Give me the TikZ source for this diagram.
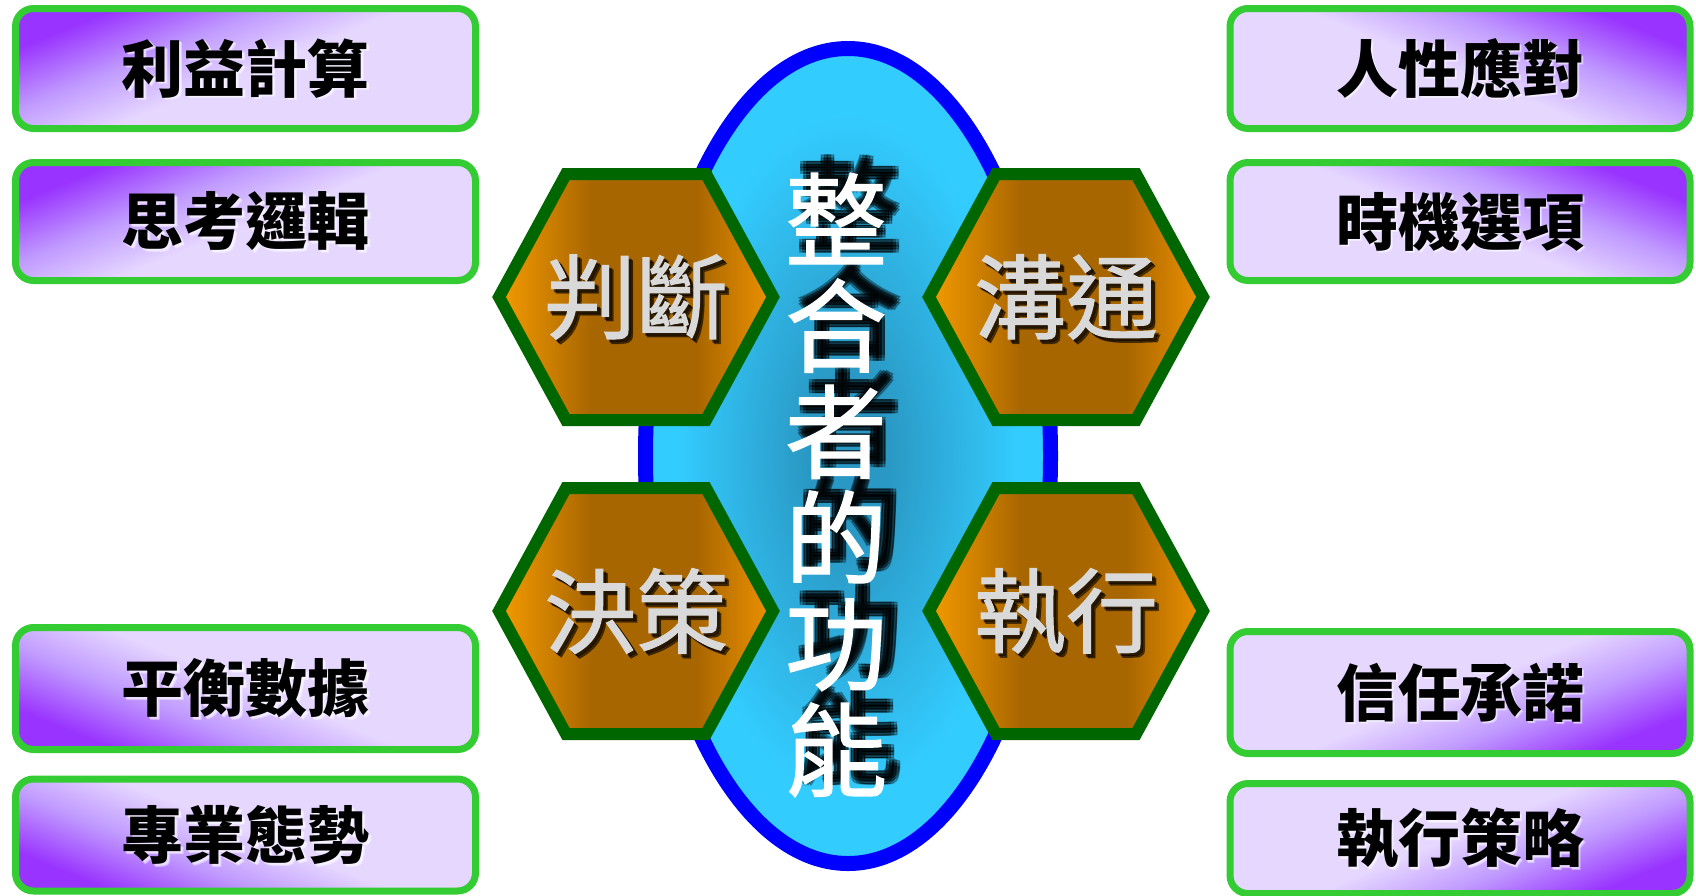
\documentclass[tikz,border=0pt]{standalone}
\usepackage{fontspec}
\newfontfamily\cjk{Noto Sans CJK TC}
\newfontfamily\cjkm[FakeBold=1.2]{Noto Sans CJK TC}
\usetikzlibrary{shapes.geometric}
\definecolor{purp}{HTML}{9933FF}
\definecolor{purpmid}{HTML}{C09AFF}
\definecolor{lav}{HTML}{E6D7FF}
\definecolor{boxgreen}{HTML}{33CC33}
\definecolor{hexgreen}{HTML}{006600}
\definecolor{hexor}{HTML}{F59B00}
\definecolor{hexortwo}{HTML}{EE9200}
\definecolor{hexdk}{HTML}{A86600}
\definecolor{elllight}{HTML}{33CCFF}
\definecolor{elldark}{HTML}{2A98C4}
\definecolor{ellblue}{HTML}{0000FF}
\definecolor{hextextcol}{HTML}{D9D9D9}
\pgfdeclareverticalshading{boxshade}{100bp}{color(0bp)=(lav); color(49bp)=(lav); color(61bp)=(purpmid); color(74bp)=(purp); color(100bp)=(purp)}
\pgfdeclarehorizontalshading{hexshade}{100bp}{color(0bp)=(hexor); color(25bp)=(hexor); color(42bp)=(hexdk); color(61bp)=(hexdk); color(75bp)=(hexortwo); color(100bp)=(hexortwo)}
\pgfdeclareradialshading{ellshade}{\pgfpoint{0bp}{0bp}}{color(0bp)=(elldark); color(5bp)=(elldark); color(21bp)=(elllight); color(50bp)=(elllight)}
\tikzset{
  boxnode/.style={draw=boxgreen, line width=7pt, rounded corners=18pt, minimum width=460pt, inner sep=0pt, shading=boxshade},
  boxtext/.style={font=\cjk\bfseries\fontsize{62}{62}\selectfont, text=black, inner sep=0pt},
  boxglow/.style={font=\cjk\bfseries\fontsize{62}{62}\selectfont, text=white, inner sep=0pt, opacity=0.45},
  hexpath/.style={draw=hexgreen, line width=12pt, line join=miter, shading=hexshade},
  hextext/.style={font=\cjkm\fontsize{92}{92}\selectfont, text=hextextcol, inner sep=0pt},
  hexshadow/.style={font=\cjkm\fontsize{92}{92}\selectfont, text=black, inner sep=0pt, opacity=0.5},
  ctext/.style={font=\cjkm\fontsize{102}{106}\selectfont, align=center, inner sep=0pt},
}
\newcommand\ctxt{整\\合\\者\\的\\功\\能}
\begin{document}
\begin{tikzpicture}[x=1pt,y=-1pt]
\useasboundingbox (0,0) rectangle (1696,895);
\fill[white] (0,0) rectangle (1696,895);
% central ellipse
\node (ell) [ellipse, draw=ellblue, line width=15pt, shading=ellshade, minimum width=405pt, minimum height=815pt, inner sep=0pt] at (848,456) {};
% blurred shadow of the central text
\foreach \dx/\dy [count=\i] in {10/-18,13/-18,16/-18,10/-15,13/-15,16/-15,10/-12,13/-12,16/-12}
  \node[ctext, text=black, opacity=0.27] (csh\i) at (836+\dx,485+\dy) {\ctxt};
\node[ctext, text=white] (ctitle) at (836,485) {\ctxt};
% hexagons
\foreach \cx/\cy/\t/\n in {636/297/判斷/ha, 1066/297/溝通/hb, 636/611/決策/hc, 1066/611/執行/hd}{
  \path[hexpath, shift={(\cx,\cy)}] (-137,0) -- (-70,-123) -- (70,-123) -- (137,0) -- (70,123) -- (-70,123) -- cycle;
  \node[hexshadow] (\n s) at (\cx+3,\cy+3) {\t};
  \node[hexshadow] (\n u) at (\cx+4.5,\cy+4.5) {\t};
  \node[hextext] (\n) at (\cx,\cy) {\t};
}
% left boxes (purple corner toward the outside)
\node[boxnode, minimum height=120pt, shading angle=22] (l1) at (245.5,68.5) {};
\node[boxnode, minimum height=118pt, shading angle=22] (l2) at (245.5,221.5) {};
\node[boxnode, minimum height=122pt, shading angle=158] (l3) at (245.5,688.5) {};
\node[boxnode, minimum height=112pt, shading angle=158] (l4) at (245.5,835) {};
% right boxes
\node[boxnode, minimum height=120pt, shading angle=-22] (r1) at (1460,68.5) {};
\node[boxnode, minimum height=118pt, shading angle=-22] (r2) at (1460,221.5) {};
\node[boxnode, minimum height=122pt, shading angle=-158] (r3) at (1460,692.5) {};
\node[boxnode, minimum height=110pt, shading angle=-158] (r4) at (1460,838.5) {};
% box texts with light glow
\foreach \b/\t in {l1/利益計算, l2/思考邏輯, l3/平衡數據, l4/專業態勢, r1/人性應對, r2/時機選項, r3/信任承諾, r4/執行策略}{
  \node[boxglow] (\b g) at ([shift={(2.5,2.5)}]\b.center) {\t};
  \node[boxglow] (\b h) at ([shift={(1.5,1.5)}]\b.center) {\t};
  \node[boxtext] (\b t) at (\b.center) {\t};
}
\end{tikzpicture}
\end{document}
